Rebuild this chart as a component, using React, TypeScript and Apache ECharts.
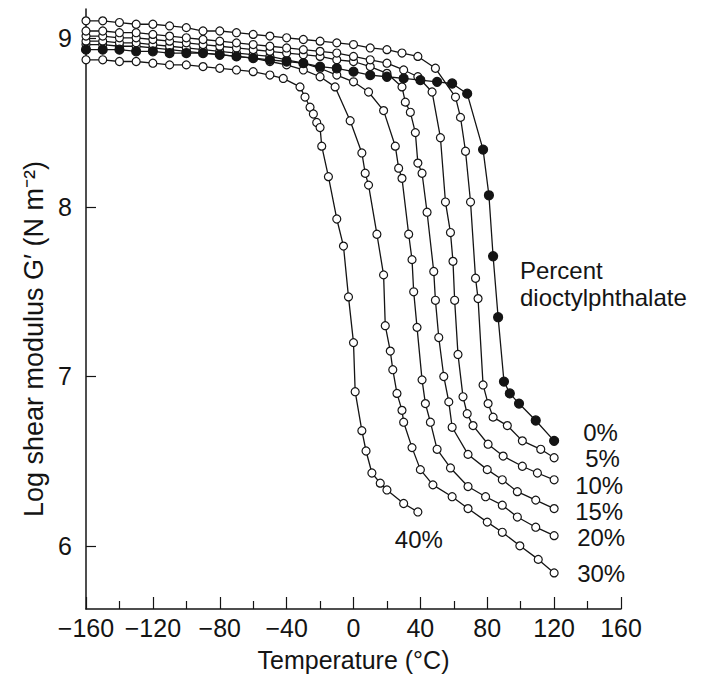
import React, { useEffect, useRef } from "react";
import * as echarts from "echarts";

// Temperature (°C) vs log shear modulus G' (N m^-2), PVC with dioctylphthalate
const yTickValues = [6, 7, 8, 9];
const seriesNames = ["0%", "5%", "10%", "15%", "20%", "30%", "40%"];

const dop0: [number, number][] = [
  [-160, 8.93], [-150, 8.93], [-140, 8.93], [-130, 8.92], [-120, 8.92], [-110, 8.91],
  [-100, 8.91], [-90, 8.91], [-80, 8.9], [-70, 8.89], [-60, 8.88], [-50, 8.87],
  [-40, 8.86], [-30, 8.85], [-20, 8.83], [-10, 8.82], [0, 8.8], [10, 8.78],
  [20, 8.77], [30, 8.76], [40, 8.75], [50, 8.74], [59, 8.73], [68, 8.67],
  [77.5, 8.34], [81, 8.07], [83.5, 7.71], [86.5, 7.35], [90, 6.97], [93.5, 6.9],
  [99, 6.84], [109, 6.74], [120, 6.62],
];

const dop5: [number, number][] = [
  [-160, 9.1], [-150, 9.1], [-140, 9.09], [-130, 9.08], [-120, 9.08], [-110, 9.07],
  [-100, 9.06], [-90, 9.04], [-80, 9.04], [-70, 9.03], [-60, 9.02], [-50, 9.01],
  [-40, 9.0], [-30, 8.99], [-20, 8.98], [-10, 8.97], [0, 8.96], [10, 8.94],
  [20, 8.93], [29, 8.91], [38.5, 8.89], [49, 8.82], [61, 8.65], [64, 8.53],
  [67, 8.33], [70, 8.03], [73, 7.58], [74.5, 7.46], [77.5, 6.95], [80.5, 6.84],
  [83.5, 6.76], [92, 6.71], [101, 6.62], [112, 6.57], [120, 6.52],
];

const dop10: [number, number][] = [
  [-160, 9.04], [-150, 9.04], [-140, 9.03], [-130, 9.03], [-120, 9.02], [-110, 9.01],
  [-100, 9.0], [-90, 8.99], [-80, 8.98], [-70, 8.97], [-60, 8.96], [-50, 8.95],
  [-40, 8.94], [-30, 8.93], [-20, 8.92], [-10, 8.91], [0, 8.89], [10, 8.87],
  [20, 8.85], [30, 8.81], [38.5, 8.77], [47, 8.68], [52, 8.41], [55, 8.03],
  [58, 7.85], [59.5, 7.68], [60.5, 7.45], [62.5, 7.13], [65.5, 6.88], [68, 6.78],
  [71.5, 6.71], [80.5, 6.6], [89.5, 6.53], [101, 6.47], [110, 6.43], [120, 6.39],
];

const dop15: [number, number][] = [
  [-160, 9.01], [-150, 9.01], [-140, 9.0], [-130, 9.0], [-120, 8.99], [-110, 8.98],
  [-100, 8.97], [-90, 8.96], [-80, 8.95], [-70, 8.94], [-60, 8.93], [-50, 8.92],
  [-40, 8.91], [-30, 8.9], [-20, 8.89], [-10, 8.87], [0, 8.86], [10, 8.83],
  [20, 8.79], [29, 8.71], [31, 8.62], [34, 8.56], [37, 8.44], [38.5, 8.26],
  [41, 8.2], [44, 7.97], [48, 7.62], [49, 7.45], [51, 7.23], [54, 7.0],
  [57, 6.85], [59, 6.7], [68.5, 6.54], [80, 6.45], [89, 6.39], [98, 6.32],
  [109, 6.27], [120, 6.22],
];

const dop20: [number, number][] = [
  [-160, 8.98], [-150, 8.98], [-140, 8.97], [-130, 8.97], [-120, 8.96], [-110, 8.95],
  [-100, 8.94], [-90, 8.93], [-80, 8.92], [-70, 8.91], [-60, 8.9], [-50, 8.89],
  [-40, 8.87], [-30, 8.85], [-20, 8.82], [-10, 8.78], [0, 8.74], [9, 8.68],
  [18, 8.57], [25, 8.36], [27, 8.23], [29, 8.17], [33, 7.84], [35, 7.69],
  [36, 7.5], [38, 7.29], [41, 6.98], [43, 6.84], [46, 6.73], [50, 6.57],
  [58, 6.46], [68.5, 6.35], [79, 6.29], [89, 6.24], [98, 6.17], [109, 6.11],
  [120, 6.06],
];

const dop30: [number, number][] = [
  [-160, 8.96], [-150, 8.96], [-140, 8.95], [-130, 8.95], [-120, 8.94], [-110, 8.93],
  [-100, 8.92], [-90, 8.91], [-80, 8.9], [-70, 8.89], [-60, 8.88], [-50, 8.86],
  [-40, 8.84], [-30, 8.81], [-20, 8.77], [-11, 8.71], [-2, 8.51], [5, 8.32],
  [7, 8.2], [9, 8.13], [14, 7.84], [18, 7.6], [19, 7.3], [22, 7.15],
  [23.5, 7.04], [26, 6.9], [29, 6.8], [30, 6.73], [35, 6.58], [40, 6.45],
  [47.5, 6.36], [59, 6.29], [68.5, 6.22], [80, 6.14], [89, 6.08], [99.5, 6.0],
  [110.5, 5.92], [120, 5.84],
];

const dop40: [number, number][] = [
  [-160, 8.87], [-150, 8.87], [-140, 8.86], [-130, 8.86], [-120, 8.85], [-110, 8.84],
  [-100, 8.84], [-90, 8.83], [-80, 8.82], [-70, 8.81], [-60, 8.8], [-50, 8.78],
  [-42, 8.76], [-32, 8.71], [-29, 8.65], [-26, 8.59], [-24, 8.55], [-22, 8.5],
  [-20, 8.47], [-19, 8.36], [-15, 8.18], [-10, 7.93], [-6, 7.77], [-3, 7.47],
  [0, 7.2], [1, 6.91], [5, 6.68], [7.5, 6.56], [11, 6.43], [16, 6.37],
  [20, 6.33], [30, 6.25], [38.5, 6.2],
];

const seriesData = [dop0, dop5, dop10, dop15, dop20, dop30, dop40];
const legendTitleLines = ["Percent", "dioctylphthalate"];

// label placement (pixels, relative to each curve's last point)
const labelOffsets: [number, number][] = [
  [29, -8], [31, 1], [21, 6], [21, 3], [23, 2], [23, 1], [-23, 28],
];

const FONT = '"Liberation Sans", Arial, Helvetica, sans-serif';
const INK = "#141414";

export default function App() {
  const ref = useRef<HTMLDivElement>(null);

  useEffect(() => {
    if (!ref.current) return;
    const chart = echarts.init(ref.current, undefined, { renderer: "svg" });

    const series = seriesData.map((data, i) => {
      const filled = i === 0;
      return {
        name: seriesNames[i],
        type: "line",
        data,
        symbol: "circle",
        symbolSize: filled ? 9 : 8,
        showSymbol: true,
        smooth: false,
        lineStyle: { color: INK, width: 1.3 },
        itemStyle: {
          color: filled ? INK : "#ffffff",
          borderColor: INK,
          borderWidth: 1.2,
        },
        endLabel: {
          show: true,
          formatter: seriesNames[i],
          distance: 0,
          offset: labelOffsets[i],
          align: "left",
          verticalAlign: "middle",
          fontFamily: FONT,
          fontSize: 24,
          lineHeight: 24,
          color: INK,
        },
        emphasis: { disabled: true },
        z: 10 - i,
      };
    });

    chart.setOption({
      animation: false,
      backgroundColor: "#ffffff",
      grid: { left: 86, right: 98, top: 9, bottom: 72, containLabel: false },
      xAxis: {
        type: "value",
        min: -160,
        max: 160,
        interval: 40,
        name: "Temperature (°C)",
        nameLocation: "middle",
        nameGap: 38,
        nameTextStyle: { fontFamily: FONT, fontSize: 25, color: INK },
        axisLine: { show: true, onZero: false, lineStyle: { color: INK, width: 1.5 } },
        axisTick: { show: true, inside: true, length: 12, lineStyle: { color: INK, width: 1.2 } },
        minorTick: { show: true, splitNumber: 2, length: 8, lineStyle: { color: INK, width: 1.2 } },
        splitLine: { show: false },
        minorSplitLine: { show: false },
        axisLabel: {
          fontFamily: FONT,
          fontSize: 25,
          color: INK,
          margin: 6,
          formatter: (v: number) => String(v).replace("-", "\u2212"),
        },
      },
      yAxis: {
        type: "value",
        min: 5.627,
        max: 9.17,
        name: "Log shear modulus G\u2032 (N m\u207B\u00B2)",
        nameLocation: "middle",
        nameGap: 37,
        nameTextStyle: {
          fontFamily: FONT,
          fontSize: 27,
          color: INK,
          padding: [0, 60, 0, 0],
        },
        axisLine: { show: true, onZero: false, lineStyle: { color: INK, width: 1.5 } },
        axisTick: {
          show: true,
          inside: true,
          length: 10,
          customValues: yTickValues,
          lineStyle: { color: INK, width: 1.2 },
        },
        splitLine: { show: false },
        axisLabel: {
          fontFamily: FONT,
          fontSize: 25,
          color: INK,
          margin: 14,
          customValues: yTickValues,
          formatter: (v: number) => String(Math.round(v)),
        },
      },
      graphic: legendTitleLines.map((line, i) => ({
        type: "text",
        left: 520,
        top: 258 + i * 27,
        style: {
          text: line,
          fontFamily: FONT,
          fontSize: 24,
          fill: INK,
        },
      })),
      series,
    });

    return () => chart.dispose();
  }, []);

  return (
    <div
      ref={ref}
      style={{ position: "fixed", left: 0, top: 0, width: 719, height: 681, background: "#fff" }}
    />
  );
}
